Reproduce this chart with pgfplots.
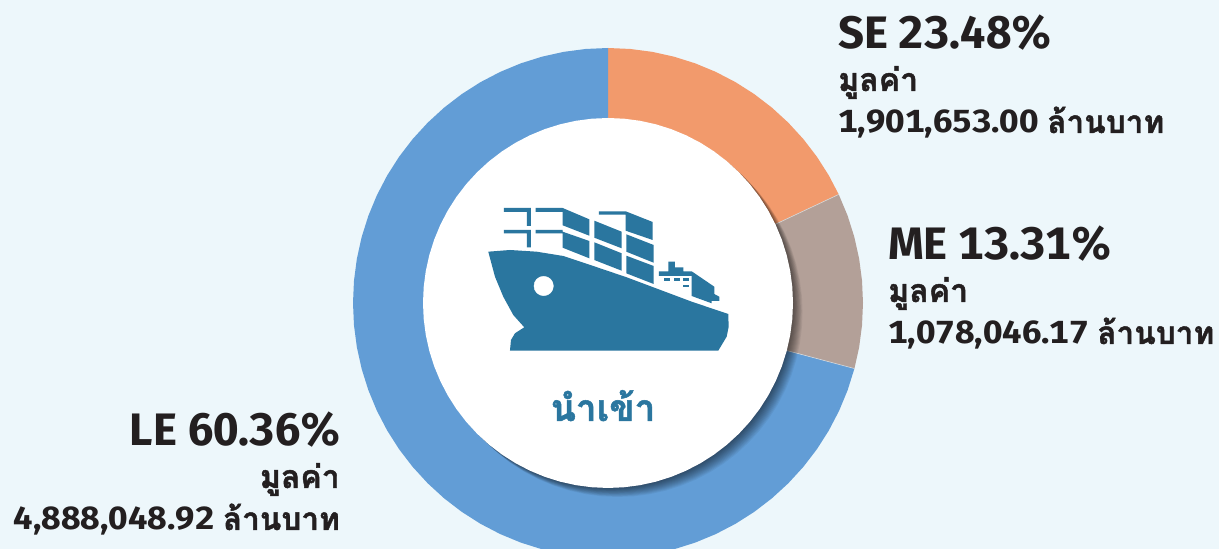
\documentclass[border=0pt]{standalone}
\usepackage{fontspec}
\usepackage{pgfplots}
\usepackage{pgfplotstable}
\pgfplotsset{compat=1.18}
\setmainfont[Numbers=Monospaced]{Fira Sans}
\newfontfamily\thaifont[Script=Thai, BoldFeatures={FakeBold=1.4}]{Loma}
\definecolor{bgc}{HTML}{EDF7FB}
\definecolor{lec}{HTML}{629DD6}
\definecolor{sec}{HTML}{F29A6C}
\definecolor{mec}{HTML}{B3A098}
\definecolor{shipc}{HTML}{2A769F}
\definecolor{txt}{HTML}{231F20}

% hole of the ring: angle, radius
\pgfplotstableread{
a r
0 185
5 185
10 185
15 185
20 185
25 185
30 185
35 185
40 185
45 185
50 185
55 185
60 185
65 185
70 185
75 185
80 185
85 185
90 185
95 185
100 185
105 185
110 185
115 185
120 185
125 185
130 185
135 185
140 185
145 185
150 185
155 185
160 185
165 185
170 185
175 185
180 185
185 185
190 185
195 185
200 185
205 185
210 185
215 185
220 185
225 185
230 185
235 185
240 185
245 185
250 185
255 185
260 185
265 185
270 185
275 185
280 185
285 185
290 185
295 185
300 185
305 185
310 185
315 185
320 185
325 185
330 185
335 185
340 185
345 185
350 185
355 185
}\holetab

\pgfplotsset{
  page/.style={width=1219pt, height=549pt, scale only axis, hide axis},
  ship/.style={fill=shipc, draw=none},
}
\newcommand{\headline}[2]{{\fontsize{45.5}{46}\selectfont\bfseries #1 #2}}
\newcommand{\thmid}{{\thaifont\fontsize{32}{32}\selectfont\bfseries มูลค่า}}
\newcommand{\valline}[1]{{\fontsize{32}{32}\selectfont\bfseries\addfontfeature{FakeStretch=1.09}#1 {\thaifont\fontsize{31.5}{32}\selectfont\bfseries ล้านบาท}}}

\begin{document}
\begin{tikzpicture}
% ring, centred on 0,0 in px
\begin{axis}[page, xmin=-608, xmax=611, ymin=-246, ymax=303]
\addplot[fill=bgc, draw=none] coordinates {(-608,-246)(611,-246)(611,303)(-608,303)};
\addplot[fill=sec, draw=none, data cs=polar] coordinates {
  (0,0)(90,255)(85,255)(80,255)(75,255)(70,255)(65,255)(60,255)(55,255)(50,255)(45,255)(40,255)(35,255)(30,255)(25.2,255)
};
\addplot[fill=mec, draw=none, data cs=polar] coordinates {
  (0,0)(25.2,255)(20,255)(15,255)(10,255)(5,255)(0,255)(-5,255)(-10,255)(-14.9,255)
};
\addplot[fill=lec, draw=none, data cs=polar] coordinates {
  (0,0)(-14.9,255)(-20,255)(-25,255)(-30,255)(-35,255)(-40,255)(-45,255)(-50,255)(-55,255)(-60,255)
  (-65,255)(-70,255)(-75,255)(-80,255)(-85,255)(-90,255)(-95,255)(-100,255)(-105,255)(-110,255)
  (-115,255)(-120,255)(-125,255)(-130,255)(-135,255)(-140,255)(-145,255)(-150,255)(-155,255)(-160,255)
  (-165,255)(-170,255)(-175,255)(-180,255)(-185,255)(-190,255)(-195,255)(-200,255)(-205,255)(-210,255)
  (-215,255)(-220,255)(-225,255)(-230,255)(-235,255)(-240,255)(-245,255)(-250,255)(-255,255)(-260,255)
  (-265,255)(-270,255)
};
\addplot[draw=white!85!black, line width=0.6pt, data cs=polar] coordinates {(-14.9,185)(-14.9,255)};
\addplot[draw=white!85!black, line width=0.6pt, data cs=polar] coordinates {(25.2,185)(25.2,255)};
% soft shadow under the hole
\pgfplotsinvokeforeach{1,...,12}{
  \addplot[fill=black, fill opacity=0.05, draw=none, data cs=polar, xshift=#1*0.8pt, yshift=-#1*0.75pt] table[x=a, y=r] {\holetab};
}
\addplot[fill=white, draw=none, data cs=polar] table[x=a, y=r] {\holetab};
\end{axis}
% ship and labels, in image px
\begin{axis}[page, xmin=0, xmax=1219, ymin=0, ymax=549, y dir=reverse, clip=false]
\addplot[ship] coordinates {(488.3,251.7)(510,250)(536.7,251.7)(563.3,256)(593.3,266)(626.7,277.3)(653.3,287.3)(691.7,301.7)(728.3,314)(728.7,326.7)(726.7,336.7)(718.3,350.7)(510,350.7)(511,340)(515,333.3)(524.3,327.3)(513.3,315)(503.3,296.7)(495,276.7)};
\addplot[only marks, white, mark=*, mark size=9.7pt] coordinates {(543.7,286)};
% hooks
\addplot[ship] coordinates {(504,208)(531,208)(531,226)(527,226)(527,212)(504,212)};
\addplot[ship] coordinates {(504,230)(531,230)(531,247.3)(527,247.3)(527,233.3)(504,233.3)};
% containers
\addplot[ship] coordinates {(535.7,208)(562.7,208)(589.3,219.3)(589.3,235.7)(562.7,225.3)(562.7,212)(535.7,212)};
\addplot[ship] coordinates {(535.7,230)(562.7,230)(562.7,231.7)(589.3,241)(589.3,258.3)(562.7,247.7)(562.7,233.3)(535.7,233.3)};
\addplot[ship] coordinates {(594.3,220.7)(621.7,231.7)(621.7,248.3)(594.3,237.7)};
\addplot[ship] coordinates {(594.3,242.3)(621.7,253.3)(621.7,270.7)(594.3,260)};
\addplot[ship] coordinates {(599,211.3)(625.7,211.3)(652.7,222)(652.7,240)(625.7,230.7)(625.7,214.7)(599,214.7)};
\addplot[ship] coordinates {(626.3,234.3)(653.7,245)(653.7,262.7)(626.3,251.7)};
\addplot[ship] coordinates {(626.3,255.7)(653.7,266)(653.7,284)(626.3,273.3)};
% bridge
\addplot[ship] coordinates {(668.3,261.7)(675,261.7)(675,267.3)(683.3,267.3)(683.3,271.3)(691.7,271.3)(714.3,286.7)(714.3,294)(719.3,296.7)(719.3,301)(711.7,301)(711.7,303.3)(691.7,296)(691.7,276)(659,276)(659,271.3)(668.3,271.3)};
\addplot[ship] coordinates {(664.3,278.3)(670.3,278.3)(670.3,281)(664.3,281)};
\addplot[ship] coordinates {(674,278.3)(680,278.3)(680,281)(674,281)};
\addplot[ship] coordinates {(683.3,278.3)(689,278.3)(689,281)(683.3,281)};
\addplot[ship] coordinates {(683.3,284.7)(689,284.7)(689,287.3)(683.3,287.3)};
% labels
\node[anchor=base west, text=txt, inner sep=0pt] at (axis cs:838,49) {\headline{SE}{23.48\%}};
\node[anchor=base west, text=txt, inner sep=0pt] at (axis cs:838,91) {\thmid};
\node[anchor=base west, text=txt, inner sep=0pt] at (axis cs:838,133) {\valline{1,901,653.00}};
\node[anchor=base west, text=txt, inner sep=0pt] at (axis cs:888,260) {\headline{ME}{13.31\%}};
\node[anchor=base west, text=txt, inner sep=0pt] at (axis cs:888,302) {\thmid};
\node[anchor=base west, text=txt, inner sep=0pt] at (axis cs:888,344) {\valline{1,078,046.17}};
\node[anchor=base east, text=txt, inner sep=0pt] at (axis cs:342,446) {\headline{LE}{60.36\%}};
\node[anchor=base east, text=txt, inner sep=0pt] at (axis cs:340,488) {\thmid};
\node[anchor=base east, text=txt, inner sep=0pt] at (axis cs:340,530) {\valline{4,888,048.92}};
\node[anchor=base, text=shipc, inner sep=0pt] at (axis cs:603,421) {\thaifont\fontsize{37}{37}\selectfont\bfseries นำเข้า};
\end{axis}
\end{tikzpicture}
\end{document}
